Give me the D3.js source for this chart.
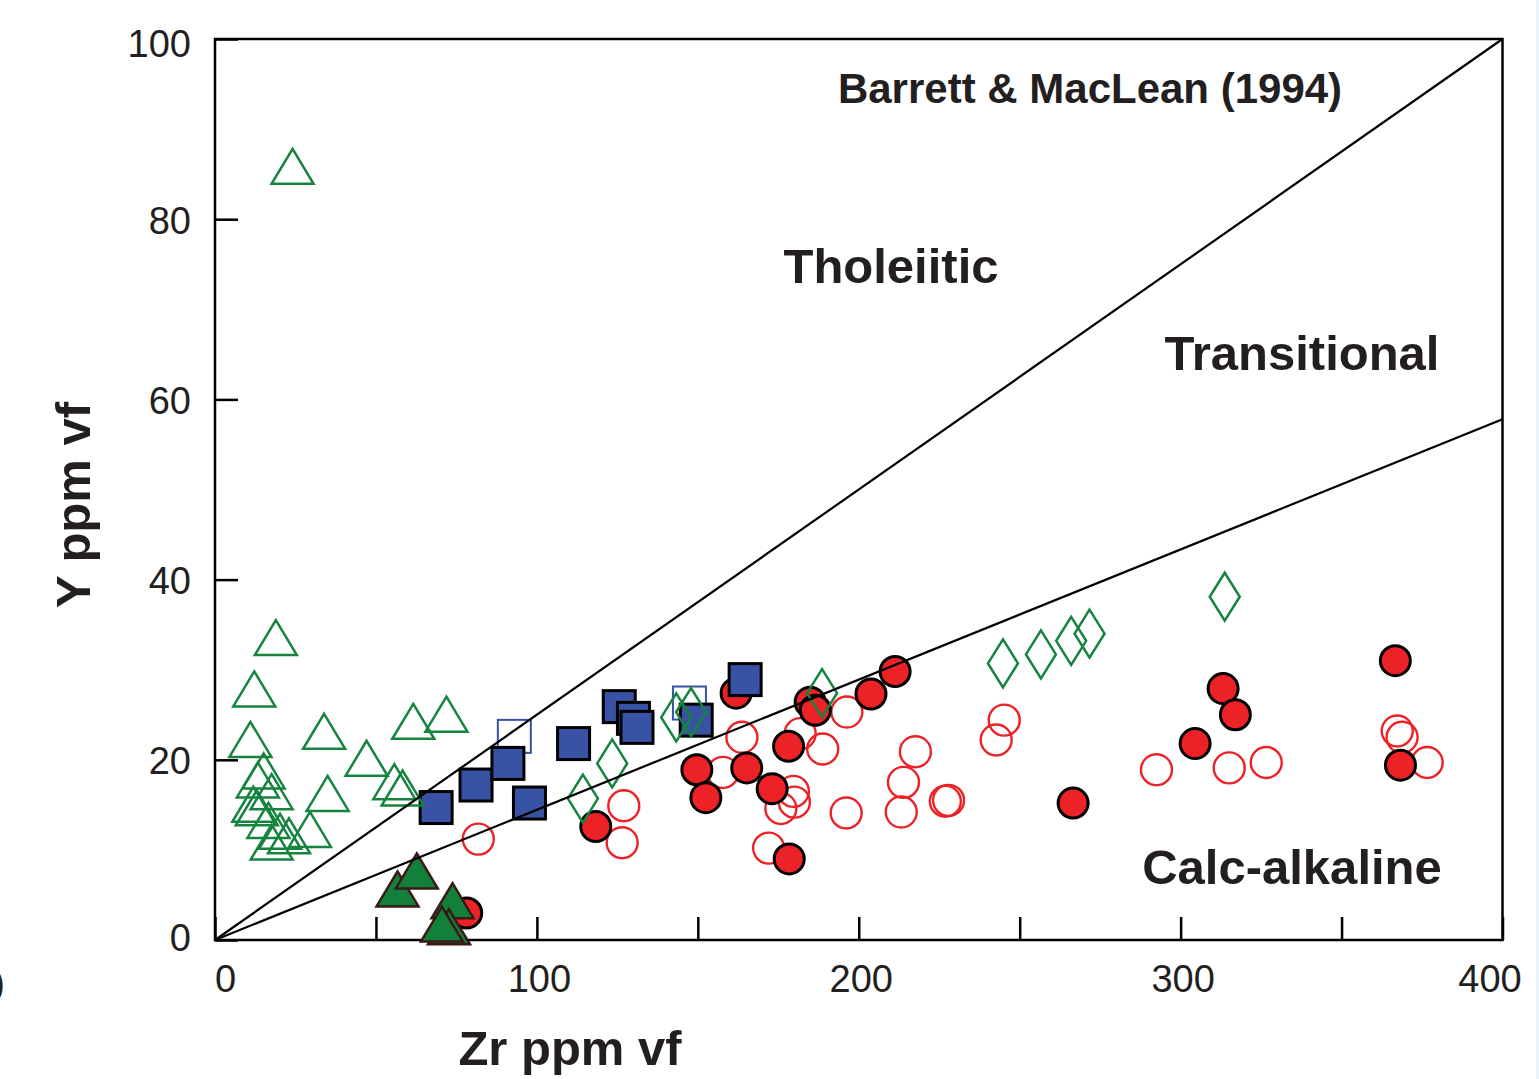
<!DOCTYPE html>
<html>
<head>
<meta charset="utf-8">
<script src="https://cdn.jsdelivr.net/npm/d3@7"></script>
<style>
  body { margin: 0; background: #fff; }
  svg { display: block; font-family: "Liberation Sans", Arial, sans-serif; }
</style>
</head>
<body>
<div id="chart"></div>
<script>
// values: [Zr, Y]
const openTriangles = [
    [24.1, 85.7], [18.9, 33.4], [12.2, 27.7], [11.0, 22.1], [33.9, 23.0],
    [47.1, 20.0], [61.6, 24.1], [71.9, 24.9], [35.0, 16.1], [55.7, 17.4],
    [58.3, 16.7], [15.1, 18.6], [13.3, 17.6], [17.6, 16.3], [11.9, 14.9],
    [13.0, 14.5], [16.6, 13.1], [23.0, 11.4], [29.5, 12.1], [17.6, 10.7],
    [20.2, 11.9],
];
const filledTriangles = [
    [56.7, 5.5], [62.7, 7.5], [73.8, 4.2], [72.7, 1.3], [70.5, 1.6],
];
const filledSquares = [
    [68.7, 14.7], [81.1, 17.2], [91.0, 19.6], [97.7, 15.2], [111.4, 21.8],
    [125.6, 25.9], [130.0, 24.6], [131.1, 23.6], [149.5, 24.4], [164.7, 28.9],
];
const openSquares = [[93.0, 22.6], [147.4, 26.3]];
const openDiamonds = [
    [114.3, 15.7], [123.4, 19.6], [143.3, 24.7], [147.9, 25.3], [188.6, 27.4],
    [244.8, 30.7], [256.6, 31.7], [266.0, 33.2], [271.7, 34.0], [313.7, 38.1],
];
const filledCircles = [
    [78.2, 3.0], [118.3, 12.6], [161.9, 27.4], [149.7, 18.9], [152.5, 15.8],
    [165.2, 19.1], [173.1, 16.8], [178.2, 21.5], [178.4, 9.0], [184.9, 26.4],
    [186.5, 25.5], [203.8, 27.3], [211.3, 29.8], [266.6, 15.2], [313.2, 27.9],
    [317.0, 25.0], [304.5, 21.8], [366.7, 31.0], [368.3, 19.4],
];
const openCircles = [
    [81.8, 11.2], [127.0, 14.9], [126.5, 10.8], [157.8, 18.6], [163.7, 22.5],
    [181.8, 22.9], [188.8, 21.2], [196.3, 25.3], [179.7, 16.5], [180.0, 15.3],
    [175.8, 14.6], [196.1, 14.1], [172.0, 10.2], [217.6, 20.9], [213.9, 17.5],
    [213.2, 14.2], [227.9, 15.5], [226.9, 15.4], [245.2, 24.4], [242.7, 22.2],
    [292.5, 18.9], [315.1, 19.1], [326.6, 19.7], [367.3, 23.2], [368.8, 22.5],
    [376.6, 19.7],
];
// discrimination lines from origin: Y at Zr = 400
const boundaryLines = [100, 57.8];
const xTicks = [0, 50, 100, 150, 200, 250, 300, 350, 400];
const yTicks = [0, 20, 40, 60, 80, 100];

const width = 1539;
const height = 1079;
const margin = { top: 39, left: 215, right: 36.5, bottom: 139 };
const plotW = width - margin.left - margin.right;
const plotH = height - margin.top - margin.bottom;

const green = '#16843f';
const red = '#ec2227';
const blue = '#3953a4';

const svg = d3.select('#chart')
    .append('svg')
    .attr('width', width)
    .attr('height', height);

// strip of the neighbouring page at the edges
svg.append('rect')
    .attr('x', 1536).attr('y', 0)
    .attr('width', 3).attr('height', height)
    .attr('fill', '#e8f3fc');
svg.append('text')
    .attr('x', 5).attr('y', 996)
    .attr('text-anchor', 'end')
    .style('font-size', '38px')
    .attr('fill', '#231f20')
    .text('0)');

const g = svg.append('g')
    .attr('transform', `translate(${margin.left},${margin.top})`);

const x = d3.scaleLinear().domain([0, 400]).range([0, plotW]);
const y = d3.scaleLinear().domain([0, 100]).range([plotH, 0]);

// axes with inside ticks
const xAxis = g.append('g')
    .attr('transform', `translate(0,${plotH})`)
    .call(d3.axisBottom(x)
        .tickValues(xTicks)
        .tickSize(-23)
        .tickPadding(25)
        .tickFormat((d) => (d % 100 === 0 ? d : '')));
const yAxis = g.append('g')
    .call(d3.axisLeft(y)
        .tickValues(yTicks)
        .tickSize(-23)
        .tickPadding(24));

[xAxis, yAxis].forEach((ax) => {
    ax.select('.domain').remove();
    ax.selectAll('line').attr('stroke', '#000').attr('stroke-width', 2.5);
    ax.selectAll('text')
        .style('font-size', '38px')
        .style('font-family', '"Liberation Sans", Arial, sans-serif')
        .attr('fill', '#231f20');
});
xAxis.selectAll('text')
    .attr('dx', (d) => (d === 0 ? 10 : d === 400 ? -13 : 2));
yAxis.selectAll('text')
    .attr('y', (d) => (d === 100 ? 5 : d === 0 ? -2 : 2));

// frame
g.append('rect')
    .attr('width', plotW)
    .attr('height', plotH)
    .attr('fill', 'none')
    .attr('stroke', '#000')
    .attr('stroke-width', 2.5);

// marker shapes
const triPath = 'M0,-19 L21,16 L-21,16 Z';
const diaPath = 'M0,-24 L15,0 L0,24 L-15,0 Z';

g.selectAll('.open-circle')
    .data(openCircles)
    .enter()
    .append('circle')
    .attr('class', 'open-circle')
    .attr('cx', (d) => x(d[0]))
    .attr('cy', (d) => y(d[1]))
    .attr('r', 15.5)
    .attr('fill', 'none')
    .attr('stroke', red)
    .attr('stroke-width', 2.4);

g.selectAll('.filled-circle')
    .data(filledCircles)
    .enter()
    .append('circle')
    .attr('class', 'filled-circle')
    .attr('cx', (d) => x(d[0]))
    .attr('cy', (d) => y(d[1]))
    .attr('r', 15)
    .attr('fill', red)
    .attr('stroke', '#000')
    .attr('stroke-width', 3);

g.selectAll('.open-square')
    .data(openSquares)
    .enter()
    .append('rect')
    .attr('class', 'open-square')
    .attr('x', (d) => x(d[0]) - 16.5)
    .attr('y', (d) => y(d[1]) - 16.5)
    .attr('width', 33)
    .attr('height', 33)
    .attr('fill', 'none')
    .attr('stroke', blue)
    .attr('stroke-width', 2);

g.selectAll('.filled-square')
    .data(filledSquares)
    .enter()
    .append('rect')
    .attr('class', 'filled-square')
    .attr('x', (d) => x(d[0]) - 16)
    .attr('y', (d) => y(d[1]) - 16)
    .attr('width', 32)
    .attr('height', 32)
    .attr('fill', blue)
    .attr('stroke', '#000')
    .attr('stroke-width', 3);

g.selectAll('.open-tri')
    .data(openTriangles)
    .enter()
    .append('path')
    .attr('class', 'open-tri')
    .attr('d', triPath)
    .attr('transform', (d) => `translate(${x(d[0])},${y(d[1])})`)
    .attr('fill', 'none')
    .attr('stroke', green)
    .attr('stroke-width', 2.5);

g.selectAll('.filled-tri')
    .data(filledTriangles)
    .enter()
    .append('path')
    .attr('class', 'filled-tri')
    .attr('d', triPath)
    .attr('transform', (d) => `translate(${x(d[0])},${y(d[1])})`)
    .attr('fill', '#127f3b')
    .attr('stroke', '#3a1a16')
    .attr('stroke-width', 2.5);

g.selectAll('.diamond')
    .data(openDiamonds)
    .enter()
    .append('path')
    .attr('class', 'diamond')
    .attr('d', diaPath)
    .attr('transform', (d) => `translate(${x(d[0])},${y(d[1])})`)
    .attr('fill', 'none')
    .attr('stroke', green)
    .attr('stroke-width', 2.5);

// boundary lines
g.selectAll('.boundary')
    .data(boundaryLines)
    .enter()
    .append('line')
    .attr('class', 'boundary')
    .attr('x1', x(0))
    .attr('y1', y(0))
    .attr('x2', x(400))
    .attr('y2', (d) => y(d))
    .attr('stroke', '#000')
    .attr('stroke-width', 2.2);

// field labels
const labels = [
    { text: 'Barrett & MacLean (1994)', x: 1090, y: 103, size: 42 },
    { text: 'Tholeiitic', x: 891, y: 283, size: 49 },
    { text: 'Transitional', x: 1302, y: 370, size: 49 },
    { text: 'Calc-alkaline', x: 1292, y: 884, size: 49 },
];
svg.selectAll('.field-label')
    .data(labels)
    .enter()
    .append('text')
    .attr('class', 'field-label')
    .attr('x', (d) => d.x)
    .attr('y', (d) => d.y)
    .attr('text-anchor', 'middle')
    .style('font-size', (d) => d.size + 'px')
    .style('font-weight', 'bold')
    .attr('fill', '#231f20')
    .text((d) => d.text);

// axis titles
svg.append('text')
    .attr('x', 570)
    .attr('y', 1065)
    .attr('text-anchor', 'middle')
    .style('font-size', '49px')
    .style('font-weight', 'bold')
    .attr('fill', '#231f20')
    .text('Zr ppm vf');

svg.append('text')
    .attr('transform', 'translate(90,505) rotate(-90)')
    .attr('text-anchor', 'middle')
    .style('font-size', '49px')
    .style('font-weight', 'bold')
    .attr('fill', '#231f20')
    .text('Y ppm vf');
</script>
</body>
</html>
